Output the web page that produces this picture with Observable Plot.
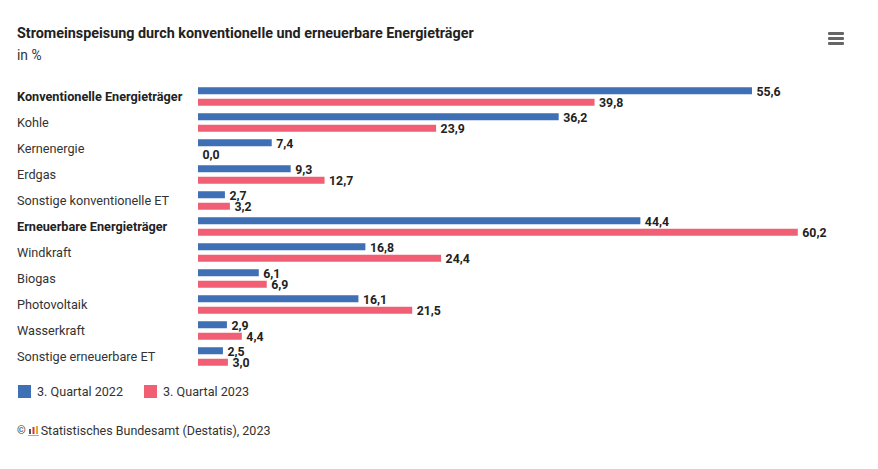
<!DOCTYPE html>
<html lang="de"><head><meta charset="utf-8">
<script src="https://cdn.jsdelivr.net/npm/d3@7"></script>
<script src="https://cdn.jsdelivr.net/npm/@observablehq/plot@0.6"></script>
<style>
html,body{margin:0;padding:0;background:#fff;width:878px;height:469px;overflow:hidden;font-family:Roboto,sans-serif;color:#333}
#wrap{position:relative;width:878px;height:469px}
#title{position:absolute;left:17px;top:25px;font-size:14.35px;font-weight:700;color:#222;white-space:nowrap}
#sub{position:absolute;left:17px;top:47px;font-size:13.8px;color:#333}
#chart{position:absolute;left:0;top:77px}
#legend{position:absolute;left:18px;top:384px;font-size:12.6px;display:flex;color:#333}
#legend span.i{display:inline-flex;align-items:center;margin-right:21px}
#legend i{display:inline-block;width:12.5px;height:12.5px;margin-right:6.5px}
#credit{position:absolute;left:17px;top:423px;font-size:12.5px;color:#333;display:flex;align-items:center;white-space:nowrap}
#menu{position:absolute;left:828px;top:32px;width:16px}
#menu b{display:block;height:3px;background:#666;margin-bottom:2px;border-radius:1px}
svg text{font-family:Roboto,sans-serif}
</style></head><body>
<div id="wrap">
<div id="title"></div><div id="sub"></div><div id="chart"></div>
<div id="legend"></div><div id="credit"></div>
<div id="menu"><b></b><b></b><b></b></div>
</div>
<script>
const titleText = "Stromeinspeisung durch konventionelle und erneuerbare Energieträger";
const subtitleText = "in %";
const creditText = "Statistisches Bundesamt (Destatis), 2023";
const categories = ["Konventionelle Energieträger","Kohle","Kernenergie","Erdgas","Sonstige konventionelle ET","Erneuerbare Energieträger","Windkraft","Biogas","Photovoltaik","Wasserkraft","Sonstige erneuerbare ET"];
const boldCategories = ["Konventionelle Energieträger","Erneuerbare Energieträger"];
const q2022 = [55.6,36.2,7.4,9.3,2.7,44.4,16.8,6.1,16.1,2.9,2.5];
const q2023 = [39.8,23.9,0.0,12.7,3.2,60.2,24.4,6.9,21.5,4.4,3.0];
const seriesNames = ["3. Quartal 2022","3. Quartal 2023"];
const seriesColors = ["#3f6fb5","#f15f74"];

document.getElementById("title").textContent = titleText;
document.getElementById("sub").textContent = subtitleText;
document.getElementById("legend").innerHTML = seriesNames.map((s,i)=>`<span class="i"><i style="background:${seriesColors[i]}"></i>${s}</span>`).join("");
document.getElementById("credit").innerHTML = `<span style="font-size:11px;margin-right:2px">©</span><svg width="11" height="11" viewBox="0 0 11 11" style="margin-right:2px"><rect x="1" y="4" width="2" height="5" fill="#555"/><rect x="4.5" y="2" width="2" height="7" fill="#d33"/><rect x="8" y="1" width="2" height="8" fill="#e9a820"/><rect x="0" y="10" width="11" height="1" fill="#aaa"/></svg>${creditText}`;

const rows22 = categories.map((c,i)=>({c,v:q2022[i]}));
const rows23 = categories.map((c,i)=>({c,v:q2023[i]}));
const fmt = v => v.toFixed(1).replace(".",",");
const off = 5.75;
const valueLabel = (rows,dy)=>Plot.text(rows,{x:"v",y:"c",text:d=>fmt(d.v),dx:4,dy,textAnchor:"start",fontWeight:700,fontSize:12.3,fill:"#222",stroke:"#fff",strokeWidth:1,paintOrder:"stroke"});
const catLabel = (list,fontWeight)=>Plot.text(list,{y:d=>d,text:d=>d,frameAnchor:"left",dx:-181.5,textAnchor:"start",fontSize:12.7,fill:fontWeight>400?"#222":"#333",fontWeight});

const chart = Plot.plot({
  width:878, height:296,
  marginLeft:198, marginRight:0, marginTop:2.3, marginBottom:0.3,
  x:{domain:[0,68.25],range:[198,878],axis:null},
  y:{domain:categories,paddingInner:0.739,paddingOuter:0.5,align:0.5,axis:null},
  marks:[
    Plot.barX(rows22,{x:"v",y:"c",fill:seriesColors[0],dy:-off}),
    Plot.barX(rows23,{x:"v",y:"c",fill:seriesColors[1],dy:off}),
    valueLabel(rows22,-5.2),
    valueLabel(rows23,6),
    catLabel(categories.filter(c=>!boldCategories.includes(c)),400),
    catLabel(boldCategories,700)
  ]
});
document.getElementById("chart").appendChild(chart);
</script>
</body></html>
